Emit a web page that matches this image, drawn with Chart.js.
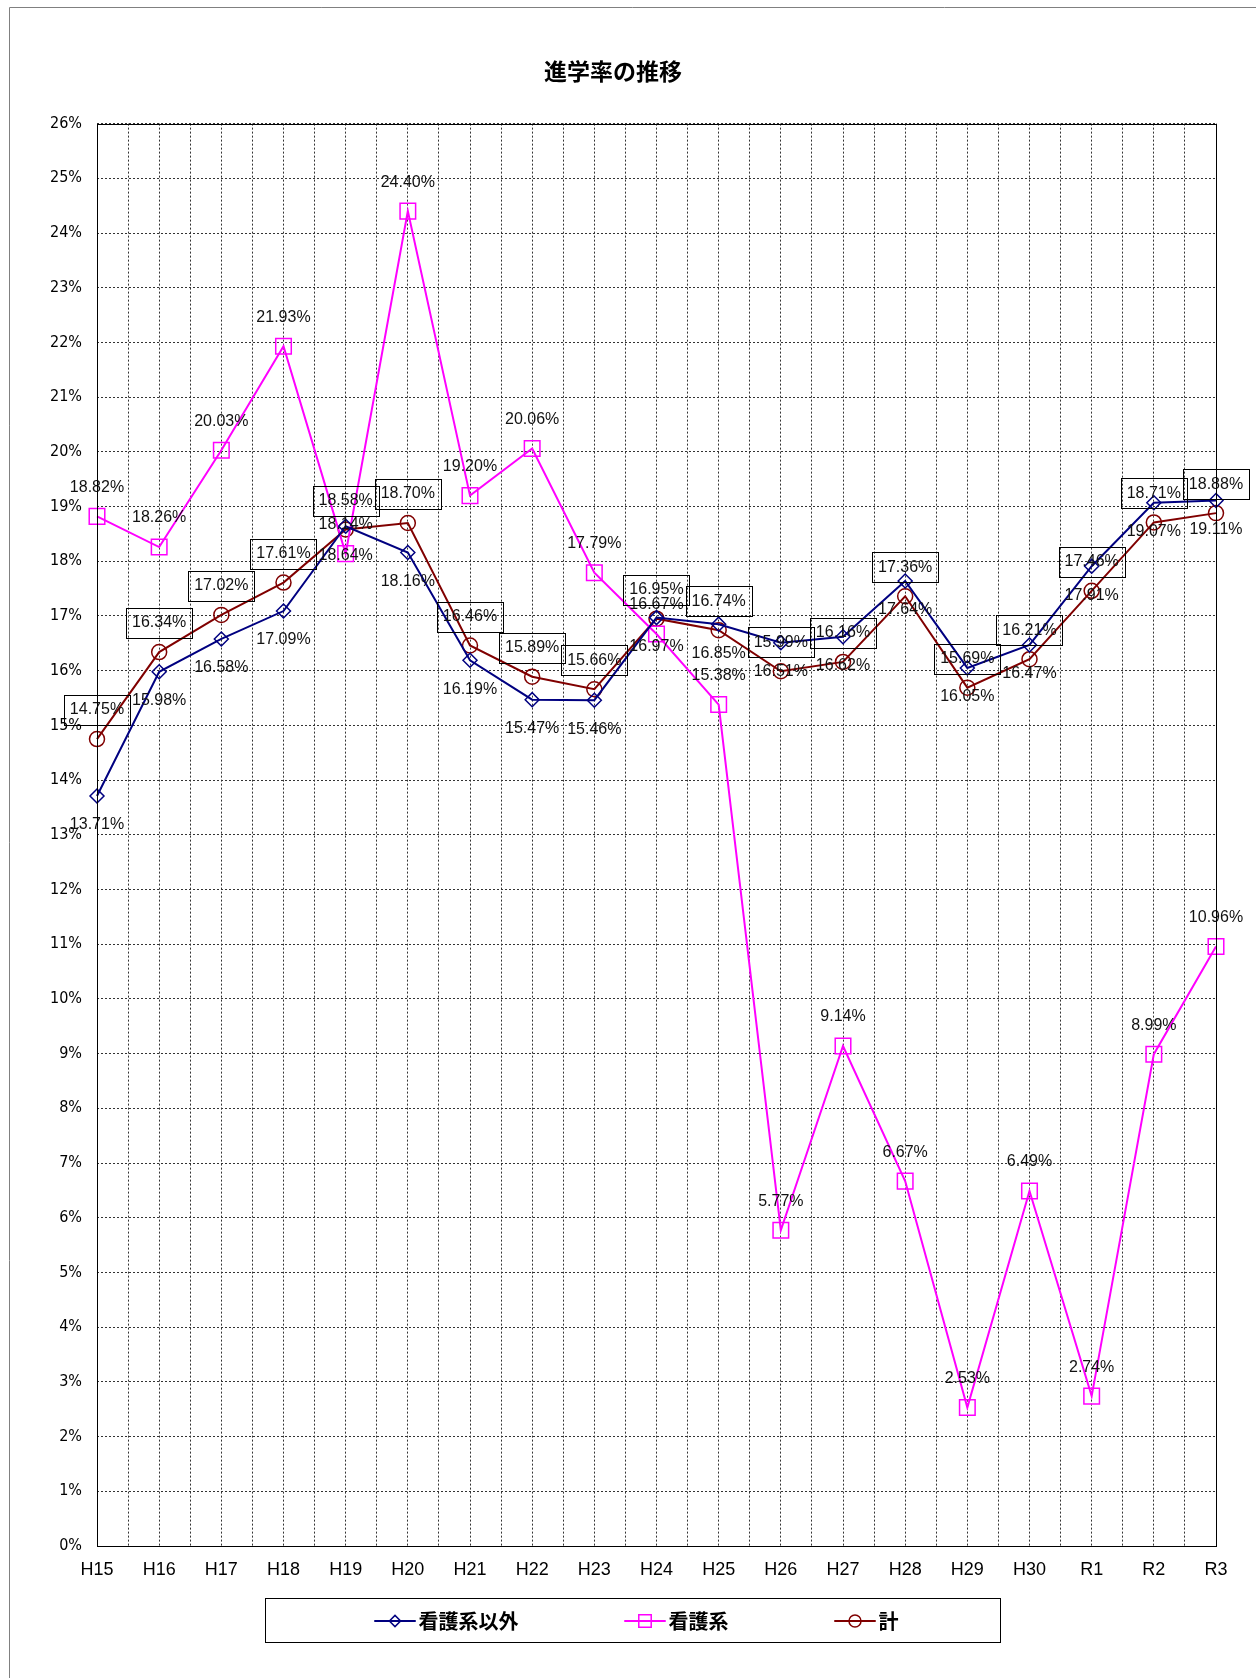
<!DOCTYPE html>
<html lang="ja">
<head>
<meta charset="utf-8">
<title>進学率の推移</title>
<script src="https://cdn.jsdelivr.net/npm/chart.js@4.4.1/dist/chart.umd.min.js"></script>
<style>
  html, body { margin: 0; padding: 0; background: #fff; }
  canvas { display: block; }
</style>
</head>
<body>
<canvas id="shingaku" width="1256" height="1678"></canvas>
<script>
// 年度
var nendo = ['H15', 'H16', 'H17', 'H18', 'H19', 'H20', 'H21', 'H22', 'H23', 'H24',
             'H25', 'H26', 'H27', 'H28', 'H29', 'H30', 'R1', 'R2', 'R3'];

// 進学率 (%)
var kangoIgai = [13.71, 15.98, 16.58, 17.09, 18.64, 18.16, 16.19, 15.47, 15.46, 16.97,
                 16.85, 16.51, 16.62, 17.64, 16.05, 16.47, 17.91, 19.07, 19.11];
var kango     = [18.82, 18.26, 20.03, 21.93, 18.14, 24.40, 19.20, 20.06, 17.79, 16.67,
                 15.38, 5.77, 9.14, 6.67, 2.53, 6.49, 2.74, 8.99, 10.96];
var kei       = [14.75, 16.34, 17.02, 17.61, 18.58, 18.70, 16.46, 15.89, 15.66, 16.95,
                 16.74, 15.99, 16.16, 17.36, 15.69, 16.21, 17.46, 18.71, 18.88];

// 縦軸
var yMin = 0, yMax = 26, yStep = 1;

var seriesNames = ['看護系以外', '看護系', '計'];

var numFont = '"Liberation Sans", Arial, sans-serif';
var jpFont = '"Noto Sans CJK JP", sans-serif';

function points(arr) {
  return arr.map(function (v, i) { return { x: i, y: v }; });
}

// データラベル
var labelsPlugin = {
  id: 'labelsPlugin',
  afterDatasetsDraw: function (chart) {
    var ctx = chart.ctx;
    ctx.save();
    ctx.font = '16px ' + numFont;
    ctx.textAlign = 'center';
    ctx.textBaseline = 'middle';
    ctx.fillStyle = '#111';
    chart.data.datasets.forEach(function (ds, i) {
      var meta = chart.getDatasetMeta(i);
      meta.data.forEach(function (pt, j) {
        var txt = ds.data[j].y.toFixed(2) + '%';
        var y = ds.labelPos === 'below' ? pt.y + 29 : pt.y - 29;
        ctx.fillText(txt, pt.x, y);
        if (ds.labelPos === 'box') {
          var w = ctx.measureText(txt).width + 12;
          ctx.strokeStyle = '#000';
          ctx.lineWidth = 1;
          ctx.strokeRect(Math.round(pt.x - w / 2) + 0.5, Math.round(y - 15) + 0.5, Math.round(w), 30);
        }
      });
    });
    ctx.restore();
  }
};

// 枠線と凡例
var framePlugin = {
  id: 'framePlugin',
  beforeDraw: function (chart) {
    var ctx = chart.ctx;
    ctx.save();
    ctx.strokeStyle = '#808080';
    ctx.lineWidth = 1;
    ctx.beginPath();
    ctx.moveTo(9.5, 1678);
    ctx.lineTo(9.5, 7.5);
    ctx.lineTo(1256, 7.5);
    ctx.stroke();
    ctx.restore();
  },
  afterDraw: function (chart) {
    var ctx = chart.ctx;
    var a = chart.chartArea;
    ctx.save();
    ctx.strokeStyle = '#000';
    ctx.lineWidth = 1;
    ctx.strokeRect(Math.round(a.left) + 0.5, Math.round(a.top) + 0.5,
                   Math.round(a.right - a.left), Math.round(a.bottom - a.top));

    // legend box
    var bx = 265, by = 1598, bw = 735, bh = 44;
    ctx.strokeRect(bx + 0.5, by + 0.5, bw, bh);
    ctx.font = 'bold 20px ' + jpFont;
    ctx.textBaseline = 'middle';
    ctx.textAlign = 'left';
    var lineLen = 41, gapText = 3, gapItem = 106;
    var widths = chart.data.datasets.map(function (ds) {
      return lineLen + gapText + ctx.measureText(ds.label).width;
    });
    var total = widths.reduce(function (s, w) { return s + w; }, 0) + gapItem * (widths.length - 1);
    var x = bx + bw / 2 - total / 2 + 4;
    var cy = by + bh / 2 + 1;
    chart.data.datasets.forEach(function (ds, i) {
      ctx.strokeStyle = ds.borderColor;
      ctx.lineWidth = 2;
      ctx.beginPath();
      ctx.moveTo(x, cy);
      ctx.lineTo(x + lineLen, cy);
      ctx.stroke();
      ctx.lineWidth = ds.pointBorderWidth;
      ctx.fillStyle = '#fff';
      Chart.helpers.drawPoint(ctx, {
        pointStyle: ds.pointStyle,
        radius: ds.pointRadius * 0.8,
        borderWidth: ds.pointBorderWidth,
        rotation: 0
      }, x + lineLen / 2, cy);
      ctx.strokeStyle = ds.borderColor;
      ctx.lineWidth = 2;
      ctx.beginPath();
      ctx.moveTo(x, cy);
      ctx.lineTo(x + lineLen, cy);
      ctx.stroke();
      ctx.fillStyle = '#000';
      ctx.fillText(ds.label, x + lineLen + gapText, cy);
      x += widths[i] + gapItem;
    });
    ctx.restore();
  }
};

var ctx = document.getElementById('shingaku').getContext('2d');

var chart = new Chart(ctx, {
  type: 'line',
  data: {
    datasets: [
      {
        label: seriesNames[0],
        data: points(kangoIgai),
        borderColor: '#000080',
        borderWidth: 2,
        pointStyle: 'rectRot',
        pointRadius: 7,
        pointBorderWidth: 1.5,
        pointBorderColor: '#000080',
        pointBackgroundColor: 'rgba(0,0,0,0)',
        labelPos: 'below',
        clip: false
      },
      {
        label: seriesNames[1],
        data: points(kango),
        borderColor: '#ff00ff',
        borderWidth: 2,
        pointStyle: 'rect',
        pointRadius: 11,
        pointBorderWidth: 1.5,
        pointBorderColor: '#ff00ff',
        pointBackgroundColor: 'rgba(0,0,0,0)',
        labelPos: 'above',
        clip: false
      },
      {
        label: seriesNames[2],
        data: points(kei),
        borderColor: '#800000',
        borderWidth: 2,
        pointStyle: 'circle',
        pointRadius: 7.5,
        pointBorderWidth: 1.5,
        pointBorderColor: '#800000',
        pointBackgroundColor: 'rgba(0,0,0,0)',
        labelPos: 'box',
        clip: false
      }
    ]
  },
  options: {
    responsive: false,
    animation: false,
    layout: { padding: { left: 10, right: 40, top: 0, bottom: 90 } },
    plugins: {
      legend: { display: false },
      tooltip: { enabled: false },
      title: {
        display: true,
        text: '進学率の推移',
        color: '#000',
        font: { family: jpFont, size: 23, weight: 'bold' },
        padding: { top: 57, bottom: 39 }
      }
    },
    scales: {
      x: {
        type: 'linear',
        min: 0,
        max: nendo.length - 1,
        afterFit: function (s) { s.height = 42; },
        afterBuildTicks: function (s) {
          var t = [];
          for (var v = 0; v <= nendo.length - 1; v += 0.5) t.push({ value: v });
          s.ticks = t;
        },
        ticks: {
          autoSkip: false,
          maxRotation: 0,
          padding: 13,
          color: '#000',
          font: { family: numFont, size: 18 },
          callback: function (v) { return Number.isInteger(v) ? nendo[v] : ''; }
        },
        grid: { color: '#333', lineWidth: 1, drawTicks: false },
        border: { display: false, dash: [2, 2] }
      },
      y: {
        min: yMin,
        max: yMax,
        afterFit: function (s) { s.width = 87; },
        ticks: {
          stepSize: yStep,
          padding: 15,
          color: '#000',
          font: { family: '"Liberation Sans Narrow", "DejaVu Sans Condensed", ' + numFont, size: 16 },
          callback: function (v) { return v + '%'; }
        },
        grid: { color: '#333', lineWidth: 1, drawTicks: false },
        border: { display: false, dash: [2, 2] }
      }
    }
  },
  plugins: [framePlugin, labelsPlugin]
});
</script>
</body>
</html>
